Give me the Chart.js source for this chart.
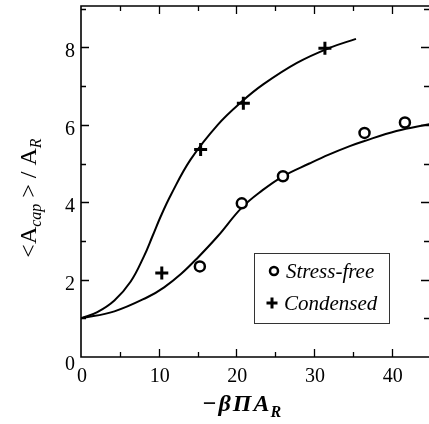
<!DOCTYPE html>
<html>
<head>
<meta charset="utf-8">
<script src="https://cdn.jsdelivr.net/npm/chart.js@4.4.0/dist/chart.umd.min.js"></script>
<style>
  html, body { margin: 0; padding: 0; background: #fff; overflow: hidden; }
  #wrap { width: 429px; height: 424px; position: relative; }
</style>
</head>
<body>
<div id="wrap"><canvas id="chart"></canvas></div>
<script>
// measured points
const condensedX = [10.4, 15.4, 20.9, 31.4];
const condensedY = [2.17, 5.36, 6.56, 7.98];
const stressFreeX = [15.3, 20.7, 26.0, 36.5, 41.7];
const stressFreeY = [2.34, 3.97, 4.67, 5.79, 6.06];

// fitted curves
const condensedFitX = [0, 2.1, 4.3, 6.4, 8.1, 9.2, 10.3, 11.6, 14.1, 17.6, 20.7, 23.5, 27.8, 31.9, 35.4];
const condensedFitY = [1.0, 1.16, 1.46, 1.95, 2.6, 3.12, 3.65, 4.2, 5.1, 6.0, 6.6, 7.05, 7.6, 7.98, 8.22];
const stressFreeFitX = [0, 4.3, 8.6, 10.7, 12.9, 15.0, 17.6, 20.7, 23.3, 26.0, 29.4, 31.9, 34.6, 36.3, 40.6, 44.9];
const stressFreeFitY = [1.0, 1.18, 1.55, 1.8, 2.15, 2.56, 3.12, 3.86, 4.3, 4.67, 5.0, 5.23, 5.45, 5.57, 5.84, 6.02];

const legendLabels = ["Stress-free", "Condensed"];

const SERIF = "'Liberation Serif', 'DejaVu Serif', serif";

function pts(xs, ys) {
  return xs.map((x, i) => ({ x: x, y: ys[i] }));
}

// frame, inward ticks, tick labels, legend box and axis titles
const decorations = {
  id: "decorations",
  afterDraw(chart) {
    const ctx = chart.ctx;
    const a = chart.chartArea;
    const xs = chart.scales.x, ys = chart.scales.y;
    ctx.save();
    ctx.strokeStyle = "#000";
    ctx.lineWidth = 1.6;
    ctx.beginPath();
    ctx.moveTo(a.right, a.top); ctx.lineTo(a.left, a.top);
    ctx.lineTo(a.left, a.bottom); ctx.lineTo(a.right, a.bottom);
    ctx.stroke();

    ctx.lineWidth = 1.3;
    ctx.beginPath();
    for (let v = 5; v <= 45; v += 5) {
      const px = Math.round(xs.getPixelForValue(v)) + 0.5;
      if (px > a.right) break;
      const len = v % 10 === 0 ? 8 : 5;
      ctx.moveTo(px, a.bottom); ctx.lineTo(px, a.bottom - len);
      ctx.moveTo(px, a.top); ctx.lineTo(px, a.top + len);
    }
    for (let v = 1; v <= 9; v++) {
      const py = Math.round(ys.getPixelForValue(v)) + 0.5;
      if (py < a.top) break;
      const len = v % 2 === 0 ? 8 : 5;
      ctx.moveTo(a.left, py); ctx.lineTo(a.left + len, py);
      ctx.moveTo(a.right, py); ctx.lineTo(a.right - len, py);
    }
    ctx.stroke();

    // tick labels
    ctx.fillStyle = "#000";
    ctx.font = "20px " + SERIF;
    ctx.textBaseline = "alphabetic";
    ctx.textAlign = "center";
    xs.ticks.forEach(t => {
      ctx.fillText(String(t.value), xs.getPixelForValue(t.value) + 1, a.bottom + 25);
    });
    ctx.textAlign = "right";
    ys.ticks.forEach(t => {
      const off = t.value === 0 ? 13 : 10;
      ctx.fillText(String(t.value), a.left - 6, ys.getPixelForValue(t.value) + off);
    });

    // legend
    ctx.lineWidth = 1;
    ctx.strokeStyle = "#333";
    ctx.strokeRect(254.5, 253.5, 135, 70);
    ctx.strokeStyle = "#000";
    ctx.lineWidth = 2.5;
    ctx.beginPath();
    ctx.arc(274, 271, 4, 0, Math.PI * 2);
    ctx.stroke();
    ctx.lineWidth = 3;
    ctx.beginPath();
    ctx.moveTo(266.5, 303); ctx.lineTo(277.5, 303);
    ctx.moveTo(272, 297.5); ctx.lineTo(272, 308.5);
    ctx.stroke();
    ctx.font = "italic 21px " + SERIF;
    ctx.textAlign = "left";
    ctx.fillText(legendLabels[0], 286, 278);
    ctx.fillText(legendLabels[1], 284, 310);

    // x title: −βΠA_R
    ctx.font = "bold italic 24px " + SERIF;
    let x0 = 202;
    const main = ["\u2212", "\u03B2", "\u03A0", "A"];
    main.forEach(ch => {
      ctx.fillText(ch, x0, 411);
      x0 += ctx.measureText(ch).width + 2;
    });
    ctx.font = "bold italic 16px " + SERIF;
    ctx.fillText("R", x0 - 1, 417);

    // y title: <A_cap> / A_R, rotated
    ctx.translate(36, 198);
    ctx.rotate(-Math.PI / 2);
    const parts = [
      ["<A", "24px " + SERIF, 0],
      ["cap", "italic 16px " + SERIF, 5],
      [" > / A", "24px " + SERIF, 0],
      ["R", "italic 16px " + SERIF, 5]
    ];
    let total = 0;
    parts.forEach(p => { ctx.font = p[1]; total += ctx.measureText(p[0]).width; });
    let u = -total / 2;
    parts.forEach(p => {
      ctx.font = p[1];
      ctx.fillText(p[0], u, p[2]);
      u += ctx.measureText(p[0]).width;
    });
    ctx.restore();
  }
};

new Chart(document.getElementById("chart"), {
  type: "scatter",
  data: {
    datasets: [
      {
        label: legendLabels[0],
        data: pts(stressFreeX, stressFreeY),
        pointStyle: "circle",
        pointRadius: 5,
        pointBorderWidth: 2.5,
        borderColor: "#000",
        backgroundColor: "#fff",
        order: 0
      },
      {
        label: legendLabels[1],
        data: pts(condensedX, condensedY),
        pointStyle: "cross",
        pointRadius: 6.5,
        pointBorderWidth: 3,
        borderColor: "#000",
        backgroundColor: "#000",
        order: 0
      },
      {
        label: "Condensed fit",
        type: "line",
        data: pts(condensedFitX, condensedFitY),
        borderColor: "#000",
        borderWidth: 2,
        pointRadius: 0,
        fill: false,
        tension: 0.4,
        order: 1
      },
      {
        label: "Stress-free fit",
        type: "line",
        data: pts(stressFreeFitX, stressFreeFitY),
        borderColor: "#000",
        borderWidth: 2,
        pointRadius: 0,
        fill: false,
        tension: 0.4,
        order: 1
      }
    ]
  },
  options: {
    responsive: true,
    maintainAspectRatio: false,
    animation: false,
    layout: { autoPadding: false, padding: { top: 6, right: 0, left: 0, bottom: 0 } },
    plugins: {
      legend: { display: false },
      tooltip: { enabled: false }
    },
    scales: {
      x: {
        type: "linear",
        min: 0,
        max: 44.8,
        grid: { display: false, drawTicks: false },
        border: { display: false },
        ticks: { stepSize: 10, includeBounds: false, display: false },
        afterFit(s) { s.height = 67; }
      },
      y: {
        min: 0,
        max: 9.07,
        grid: { display: false, drawTicks: false },
        border: { display: false },
        ticks: { stepSize: 2, includeBounds: false, display: false },
        afterFit(s) { s.width = 81; }
      }
    }
  },
  plugins: [decorations]
});
</script>
</body>
</html>
